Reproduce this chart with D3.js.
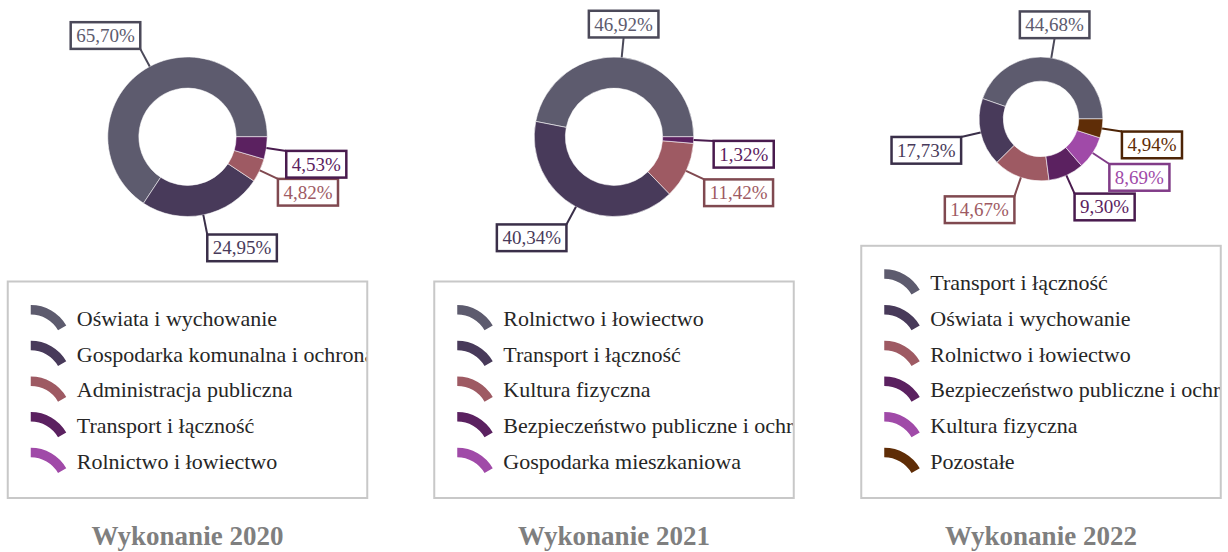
<!DOCTYPE html>
<html lang="pl">
<head>
<meta charset="utf-8">
<script src="https://cdn.jsdelivr.net/npm/d3@7"></script>
<style>
  html, body { margin: 0; padding: 0; background: #ffffff; }
  svg { display: block; font-family: "Liberation Serif", "Times New Roman", serif; }
</style>
</head>
<body>
<svg id="chart" width="1228" height="552"></svg>
<script>
// Titles of the three panels
const titles = ["Wykonanie 2020", "Wykonanie 2021", "Wykonanie 2022"];

// 2020 execution structure (%)
const categories2020 = [
  "Oświata i wychowanie",
  "Gospodarka komunalna i ochrona środowiska",
  "Administracja publiczna",
  "Transport i łączność",
  "Rolnictwo i łowiectwo"
];
const values2020 = [65.70, 24.95, 4.82, 4.53, 0];

// 2021 execution structure (%)
const categories2021 = [
  "Rolnictwo i łowiectwo",
  "Transport i łączność",
  "Kultura fizyczna",
  "Bezpieczeństwo publiczne i ochrona przeciwpożarowa",
  "Gospodarka mieszkaniowa"
];
const values2021 = [46.92, 40.34, 11.42, 1.32, 0];

// 2022 execution structure (%)
const categories2022 = [
  "Transport i łączność",
  "Oświata i wychowanie",
  "Rolnictwo i łowiectwo",
  "Bezpieczeństwo publiczne i ochrona przeciwpożarowa",
  "Kultura fizyczna",
  "Pozostałe"
];
const values2022 = [44.68, 17.73, 14.67, 9.30, 8.69, 4.94];

// Slice colours, in order of position within each panel
const palette = ["#5d5b6e", "#483a5a", "#9e5a63", "#5b2160", "#a04aa8", "#5f2d07"];

const panels = [
  { title: titles[0], cats: categories2020, vals: values2020 },
  { title: titles[1], cats: categories2021, vals: values2021 },
  { title: titles[2], cats: categories2022, vals: values2022 }
];

const svg = d3.select("#chart");
const panelCenters = [187.5, 614, 1041];
const legendBottom = 498;
const rowStep = 35.7;
const legendWidth = 359.5;
const fmt = v => d3.format(".2f")(v).replace(".", ",") + "%";

panels.forEach((p, pi) => {
  const cx = panelCenters[pi];
  const g = svg.append("g");
  const n = p.cats.length;

  // Legend box, anchored at the bottom and growing upward
  const legendH = n * rowStep + 38;
  const legendTop = legendBottom - legendH;
  const legendLeft = cx - legendWidth / 2;

  // Donut geometry depends on the space left above the legend
  const cy = legendTop / 2 - 4;
  const rOuter = legendTop / 2 - 61;
  const rInner = rOuter * 0.61;

  const data = p.vals.map((v, i) => ({ name: p.cats[i], value: v, color: palette[i] }));

  // Counter-clockwise from 3 o'clock
  const pie = d3.pie().sort(null).value(d => d.value)
    .startAngle(Math.PI / 2).endAngle(Math.PI / 2 - 2 * Math.PI);
  const arcs = pie(data);
  const arc = d3.arc().innerRadius(rInner).outerRadius(rOuter);

  const donut = g.append("g").attr("transform", `translate(${cx},${cy})`);
  donut.selectAll("path.slice")
    .data(arcs.filter(a => a.data.value > 0))
    .join("path")
    .attr("class", "slice")
    .attr("d", arc)
    .attr("fill", d => d.data.color)
    .attr("stroke", "rgba(255,255,255,0.55)")
    .attr("stroke-width", 1);

  // Value labels with leader lines
  const lineLen = 20;
  const boxH = 26.7;
  const labelFont = 19;
  arcs.filter(a => a.data.value > 0).forEach(a => {
    const mid = (a.startAngle + a.endAngle) / 2;
    const dx = Math.sin(mid), dy = -Math.cos(mid);
    const x0 = dx * rOuter, y0 = dy * rOuter;
    const x1 = dx * (rOuter + lineLen), y1 = dy * (rOuter + lineLen);
    const border = d3.color(a.data.color).darker(0.6).formatHex();

    donut.append("line")
      .attr("x1", x0).attr("y1", y0).attr("x2", x1).attr("y2", y1)
      .attr("stroke", border).attr("stroke-width", 2);

    const lab = donut.append("g");
    const txt = lab.append("text")
      .attr("font-size", labelFont)
      .attr("fill", a.data.color)
      .attr("text-anchor", "middle")
      .text(fmt(a.data.value));
    const tw = txt.node().getComputedTextLength();
    const boxW = tw + 11;

    // Near-vertical leaders get a centred box; otherwise the box hangs off a corner
    let bx;
    if (Math.abs(dx) < 0.18) bx = x1 - boxW / 2;
    else if (dx > 0) bx = x1;
    else bx = x1 - boxW;
    const by = dy < 0 ? y1 - boxH : y1;

    lab.insert("rect", "text")
      .attr("x", bx).attr("y", by)
      .attr("width", boxW).attr("height", boxH)
      .attr("fill", "#ffffff")
      .attr("stroke", border).attr("stroke-width", 2.5);
    txt.attr("x", bx + boxW / 2).attr("y", by + boxH / 2 + 6.5);
  });

  // Legend frame and clipped entries
  const clipId = "legend-clip-" + pi;
  svg.append("defs").append("clipPath").attr("id", clipId)
    .append("rect")
    .attr("x", legendLeft + 1).attr("y", legendTop + 1)
    .attr("width", legendWidth - 2).attr("height", legendH - 2);

  g.append("rect")
    .attr("x", legendLeft).attr("y", legendTop)
    .attr("width", legendWidth).attr("height", legendH)
    .attr("fill", "#ffffff")
    .attr("stroke", "#c8c8c8").attr("stroke-width", 2);

  const legend = g.append("g").attr("clip-path", `url(#${clipId})`);
  const iconR = 41, iconT = 9.5;
  const iconArc = d3.arc().innerRadius(iconR - iconT).outerRadius(iconR)
    .startAngle(0).endAngle(Math.PI / 3);

  data.forEach((d, i) => {
    const rowC = legendTop + 36.8 + i * rowStep;
    legend.append("path")
      .attr("d", iconArc())
      .attr("transform", `translate(${legendLeft + 23},${rowC - 13.3 + iconR})`)
      .attr("fill", d.color);
    legend.append("text")
      .attr("x", legendLeft + 69)
      .attr("y", rowC + 7.5)
      .attr("font-size", 22)
      .attr("fill", "#262626")
      .text(d.name);
  });

  // Panel title
  g.append("text")
    .attr("x", cx).attr("y", 544.7)
    .attr("text-anchor", "middle")
    .attr("font-size", 27)
    .attr("font-weight", "bold")
    .attr("fill", "#7f7f7f")
    .text(p.title);
});
</script>
</body>
</html>
